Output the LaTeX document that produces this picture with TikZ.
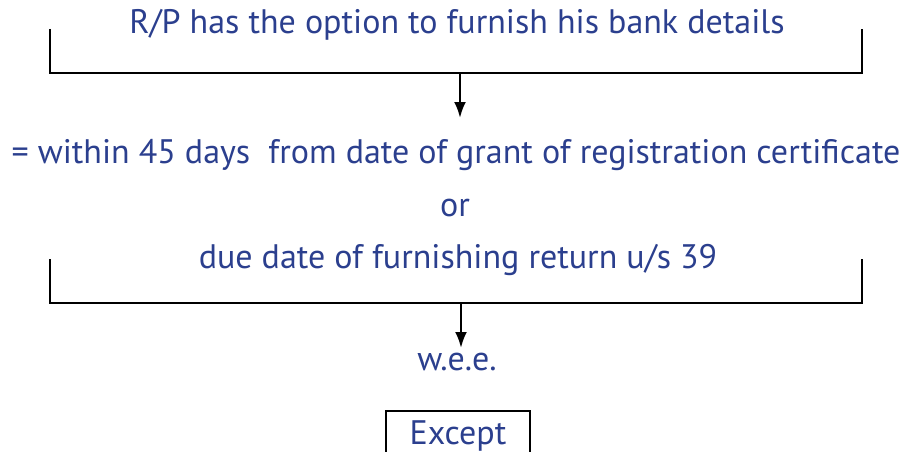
\documentclass[tikz,border=0pt]{standalone}
\usepackage{fontspec}
\setmainfont{PT Sans}
\usepackage{xcolor}
\usetikzlibrary{positioning, arrows.meta}
\definecolor{rpblue}{HTML}{2B3F8E}
\tikzset{
  txt/.style={text=rpblue, font=\fontsize{34}{40}\selectfont, inner sep=2pt},
  bar/.style={line width=2.5pt},
  arr/.style={line width=2.5pt, -{Latex[length=16pt, width=12pt]}},
}

\begin{document}
\begin{tikzpicture}[x=1pt, y=-1pt]
\useasboundingbox (0,0) rectangle (908,452);
% top statement and its bracket
\node[txt] (option) at (457,25) {R/P has the option to furnish his bank details};
\coordinate (tl) at (50,29);
\coordinate (tr) at (862,29);
\coordinate (bl) at (50,73);
\coordinate (br) at (862,73);
\coordinate (tm) at (460,73);
\coordinate (tmend) at (460,118);
\draw[bar] (tl) -- (bl) -- (br) -- (tr);
\draw[arr] (tm) -- (tmend);
% time limits
\node[txt] (within) at (456,155) {= within 45 days\ \ from date of grant of registration certificate};
\node[txt] (or) at (455,208) {or};
\node[txt] (due) at (458,260) {due date of furnishing return u/s 39};
% lower bracket
\coordinate (ltl) at (50,259);
\coordinate (ltr) at (862,259);
\coordinate (lbl) at (50,303);
\coordinate (lbr) at (862,303);
\coordinate (lm) at (461,303);
\coordinate (lmend) at (461,348);
\draw[bar] (ltl) -- (lbl) -- (lbr) -- (ltr);
\draw[arr] (lm) -- (lmend);
% result
\node[txt] (wee) at (457,362) {w.e.e.};
\node[txt, draw=black, line width=2.5pt, minimum width=144pt, minimum height=50pt] (except) at (458,436) {Except};
\end{tikzpicture}
\end{document}
